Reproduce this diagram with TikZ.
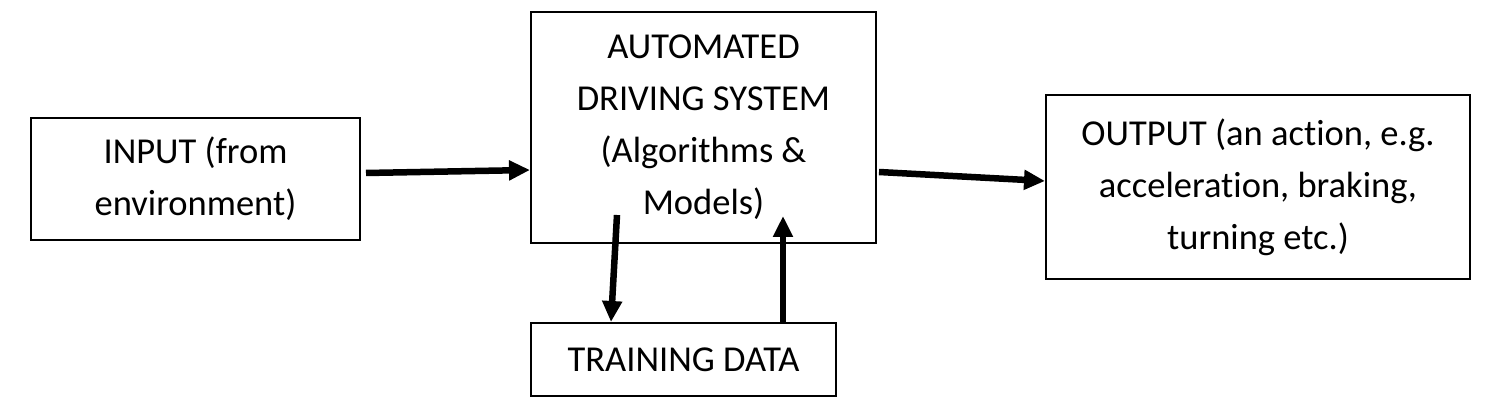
\documentclass[tikz,border=0pt]{standalone}
\usepackage{fontspec}
\setmainfont{Carlito}[Ligatures=NoCommon]
\usetikzlibrary{arrows.meta}
\begin{document}
\begin{tikzpicture}[x=1pt,y=1pt,
  box/.style={draw=black,line width=2pt,align=center,inner sep=0pt,
    font=\fontsize{36.5}{52}\selectfont},
  arr/.style={line width=6.5pt,-{Triangle[length=21pt,width=19pt]}}]
\useasboundingbox (0,0) rectangle (1505,412);
\node[box,minimum width=329pt,minimum height=122pt] (in) at (195.5,233) {INPUT (from\\environment)};
\node[box,minimum width=345pt,minimum height=231pt] (ads) at (703.5,284.5) {AUTOMATED\\DRIVING SYSTEM\\(Algorithms \&\\Models)};
\node[box,minimum width=424pt,minimum height=184pt] (out) at (1258,225) {OUTPUT (an action, e.g.\\acceleration, braking,\\turning etc.)};
\node[box,minimum width=305pt,minimum height=73pt] (td) at (683.5,52.5) {TRAINING DATA};
\draw[arr] ([xshift=5pt,yshift=6pt]in.east) -- ([yshift=-42.5pt]ads.west);
\draw[arr] ([xshift=2pt,yshift=-44.5pt]ads.east) -- ([yshift=6pt]out.west);
\draw[arr] ([xshift=-86.5pt,yshift=29pt]ads.south) -- ([xshift=-72.5pt]td.north);
\draw[arr] ([xshift=99.5pt]td.north) -- ([xshift=79.5pt,yshift=28pt]ads.south);
\end{tikzpicture}
\end{document}
